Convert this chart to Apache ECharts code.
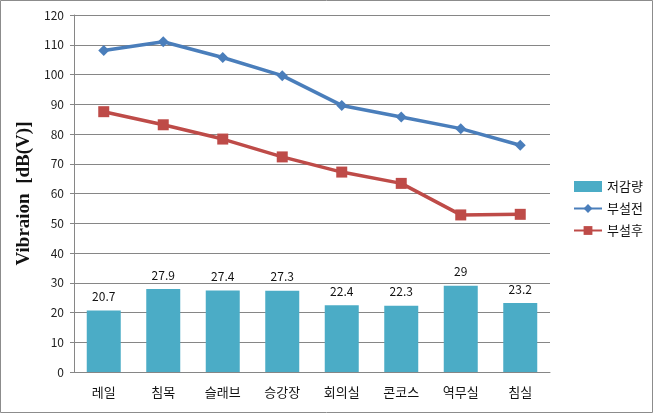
<!DOCTYPE html>
<html><head><meta charset="utf-8">
<script src="https://cdn.jsdelivr.net/npm/echarts@6/dist/echarts.min.js"></script>
<style>html,body{margin:0;padding:0;background:#fff;}#c{width:653px;height:413px;}</style>
</head><body><div id="c"></div>
<script>
var categories = ['레일','침목','슬래브','승강장','회의실','콘코스','역무실','침실'];
var reduction = [20.7, 27.9, 27.4, 27.3, 22.4, 22.3, 29, 23.2];
var before = [108.1, 111.0, 105.7, 99.6, 89.6, 85.7, 81.8, 76.2];
var after = [87.5, 83.1, 78.3, 72.3, 67.2, 63.4, 52.8, 53.0];
var seriesNames = ['저감량','부설전','부설후'];
var yTitle = 'Vibraion  [dB(V)]';

var chart = echarts.init(document.getElementById('c'), null, {renderer:'canvas'});
var font = '"Noto Sans CJK KR", "Noto Sans", sans-serif';
chart.setOption({
  animation:false,
  backgroundColor:'#fff',
  graphic:[{type:'rect', shape:{x:0.5,y:0.5,width:652,height:412}, style:{fill:'none', stroke:'#8c8c8c', lineWidth:1}, silent:true}],
  grid:{left:74, right:103, top:15, bottom:41, containLabel:false},
  legend:{
    orient:'vertical', left:568, top:175, itemGap:9, itemWidth:28, itemHeight:11,
    textStyle:{fontFamily:font, fontSize:13, color:'#111'},
    data:[{name:seriesNames[0], icon:'rect'},{name:seriesNames[1]},{name:seriesNames[2]}]
  },
  xAxis:{type:'category', data:categories,
    axisLine:{lineStyle:{color:'#868686', width:1}},
    axisTick:{show:false},
    axisLabel:{fontFamily:font, fontSize:13, color:'#111', margin:14}
  },
  yAxis:{type:'value', min:0, max:120, interval:10,
    name:yTitle, nameLocation:'middle', nameGap:32,
    nameTextStyle:{fontFamily:'"Liberation Serif", "Times New Roman", serif', fontWeight:'bold', fontSize:19, color:'#111'},
    axisLine:{show:true, lineStyle:{color:'#868686'}},
    axisTick:{show:true, length:4, lineStyle:{color:'#868686'}},
    splitLine:{lineStyle:{color:'#868686', width:1}},
    axisLabel:{fontFamily:font, fontSize:12, color:'#222', margin:10}
  },
  series:[
    {name:seriesNames[0], type:'bar', data:reduction, barWidth:34,
      itemStyle:{color:'#4BACC6'},
      label:{show:true, position:'top', distance:8, fontFamily:font, fontSize:12, color:'#111'}},
    {name:seriesNames[1], type:'line', data:before, symbol:'diamond', symbolSize:11,
      lineStyle:{color:'#4A7EBB', width:3.5}, itemStyle:{color:'#4A7EBB'}},
    {name:seriesNames[2], type:'line', data:after, symbol:'rect', symbolSize:11,
      lineStyle:{color:'#BE4B48', width:3.5}, itemStyle:{color:'#BE4B48'}}
  ]
});
</script></body></html>
